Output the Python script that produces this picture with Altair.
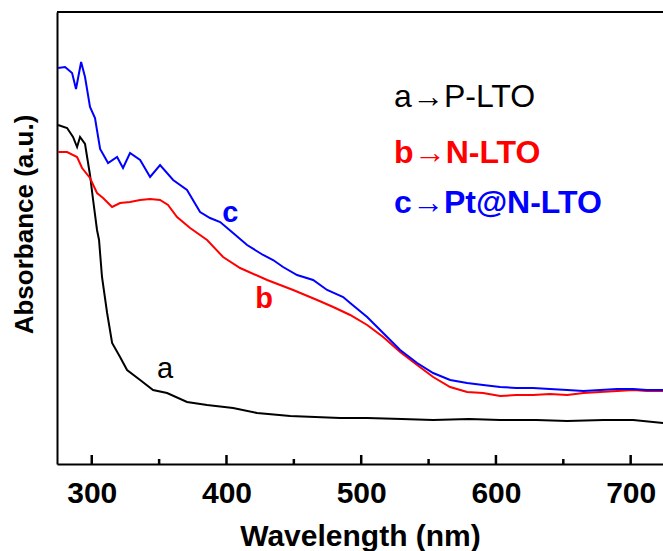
import altair as alt
import pandas as pd

# ---- data (wavelength nm, absorbance a.u.) ----
nm_a = [275.0, 281.7, 286.1, 289.1, 291.3, 295.0, 298.7, 301.0, 303.9, 305.4, 307.6, 311.4,
        315.1, 321.0, 326.2, 335.9, 345.5, 355.9, 370.7, 385.6, 404.9, 422.7, 447.3, 484.4,
        504.4, 530.0, 553.4, 580.0, 603.1, 630.0, 652.9, 680.0, 701.9, 724.2]
abs_a = [3.39, 3.36, 3.27, 3.17, 3.27, 3.20, 2.89, 2.64, 2.34, 2.24, 1.87, 1.51,
         1.21, 1.07, 0.94, 0.84, 0.74, 0.71, 0.62, 0.59, 0.56, 0.51, 0.48, 0.46,
         0.46, 0.45, 0.44, 0.45, 0.44, 0.44, 0.43, 0.44, 0.44, 0.41]

nm_b = [275.0, 281.7, 289.1, 292.8, 298.7, 303.9, 308.4, 315.1, 321.0, 328.4, 335.9, 343.3,
        350.7, 356.6, 363.3, 373.0, 385.6, 397.5, 410.1, 430.2, 449.5, 467.3, 479.2, 491.8,
        504.4, 516.3, 528.9, 541.5, 553.4, 566.0, 578.6, 590.5, 603.1, 615.0, 627.6, 640.0,
        652.9, 665.0, 677.4, 690.0, 701.9, 712.0, 724.2]
abs_b = [3.12, 3.12, 3.07, 2.96, 2.86, 2.71, 2.66, 2.57, 2.61, 2.62, 2.64, 2.65,
         2.64, 2.59, 2.47, 2.36, 2.24, 2.07, 1.96, 1.84, 1.74, 1.64, 1.57, 1.49,
         1.39, 1.27, 1.12, 0.99, 0.87, 0.77, 0.72, 0.71, 0.68, 0.69, 0.69, 0.70,
         0.69, 0.71, 0.72, 0.73, 0.74, 0.73, 0.73]

nm_c = [275.0, 280.2, 285.4, 288.3, 292.1, 295.0, 298.7, 302.4, 306.2, 312.1, 318.8, 323.2,
        328.4, 335.9, 343.3, 350.7, 360.4, 370.7, 380.4, 387.8, 395.3, 404.9, 415.3, 427.2,
        434.6, 442.0, 452.4, 464.3, 474.7, 486.6, 491.8, 504.4, 516.3, 528.9, 541.5, 553.4,
        566.0, 578.6, 590.5, 603.1, 615.0, 627.6, 640.0, 652.9, 665.0, 677.4, 690.0, 701.9,
        712.0, 724.2]
abs_c = [3.96, 3.97, 3.91, 3.75, 4.02, 3.87, 3.57, 3.46, 3.15, 3.01, 3.07, 2.96,
         3.11, 3.04, 2.87, 2.99, 2.84, 2.74, 2.52, 2.46, 2.42, 2.31, 2.19, 2.09,
         2.04, 1.97, 1.89, 1.84, 1.74, 1.67, 1.61, 1.47, 1.31, 1.14, 1.01, 0.91,
         0.84, 0.81, 0.79, 0.77, 0.76, 0.76, 0.75, 0.74, 0.73, 0.74, 0.75, 0.75,
         0.74, 0.74]

series_names = ["a", "b", "c"]
series_colors = ["#000000", "#ff0000", "#0000ff"]

major_ticks = [300, 400, 500, 600, 700]
minor_ticks = [350, 450, 550, 650]

legend_text = ["a\u2192P-LTO", "b\u2192N-LTO", "c\u2192Pt@N-LTO"]
legend_nm = [524.4, 524.4, 524.4]
legend_abs = [3.57, 3.01, 2.51]

curve_text = ["a", "b", "c"]
curve_nm = [354.4, 428.0, 402.8]
curve_abs = [0.86, 1.56, 2.42]

X_DOMAIN = [274.2, 724.0]
Y_DOMAIN = [0, 4.52]
W, H = 606, 452
FONT = "Liberation Sans"

rows = []
for s, xs, ys in zip(series_names, [nm_a, nm_b, nm_c], [abs_a, abs_b, abs_c]):
    for xv, yv in zip(xs, ys):
        rows.append({"series": s, "nm": xv, "abs": yv})
df = pd.DataFrame(rows)

xscale = alt.Scale(domain=X_DOMAIN, nice=False, zero=False)
yscale = alt.Scale(domain=Y_DOMAIN, nice=False, zero=False)

lines = alt.Chart(df).mark_line(strokeWidth=2, clip=True).encode(
    x=alt.X("nm:Q", scale=xscale,
            axis=alt.Axis(title="Wavelength (nm)", values=major_ticks, ticks=False, tickSize=0,
                          grid=False, domainColor="#000000", domainWidth=2,
                          labelFont=FONT, labelFontSize=30, labelFontWeight="bold",
                          labelColor="#000000", labelBaseline="alphabetic", labelPadding=38,
                          titleFont=FONT, titleFontSize=30, titleFontWeight="bold",
                          titleColor="#000000", titleBaseline="alphabetic", titleY=81,
                          labelFlush=False)),
    y=alt.Y("abs:Q", scale=yscale,
            axis=alt.Axis(title="Absorbance (a.u.)", labels=False, ticks=False, grid=False,
                          domainColor="#000000", domainWidth=2,
                          titleFont=FONT, titleFontSize=26, titleFontWeight="bold",
                          titleColor="#000000", titleAngle=-90, titleAlign="center",
                          titleBaseline="middle", titleX=-33, titleY=212)),
    color=alt.Color("series:N", scale=alt.Scale(domain=series_names, range=series_colors),
                    legend=None),
    detail="series:N",
)

major = alt.Chart(pd.DataFrame({"nm": major_ticks})).mark_rule(
    color="#000000", strokeWidth=2.5).encode(
    x=alt.X("nm:Q", scale=xscale), y=alt.value(H - 9), y2=alt.value(H))
minor = alt.Chart(pd.DataFrame({"nm": minor_ticks})).mark_rule(
    color="#000000", strokeWidth=2.5).encode(
    x=alt.X("nm:Q"), y=alt.value(H - 5), y2=alt.value(H))

top_border = alt.Chart(pd.DataFrame({"nm": [X_DOMAIN[0], X_DOMAIN[1]]})).mark_rule(
    color="#000000", strokeWidth=2).encode(
    x=alt.X("min(nm):Q", scale=xscale), x2="max(nm):Q", y=alt.value(0))

leg_df = pd.DataFrame({"t": legend_text, "nm": legend_nm, "abs": legend_abs,
                       "col": series_colors, "s": series_names})
leg_regular = alt.Chart(leg_df).transform_filter(alt.datum.s == "a").mark_text(
    align="left", baseline="alphabetic", font=FONT, fontSize=32, fontWeight="normal").encode(
    x=alt.X("nm:Q", scale=xscale), y=alt.Y("abs:Q", scale=yscale),
    text="t:N", color=alt.Color("col:N", scale=None))
leg_bold = alt.Chart(leg_df).transform_filter(alt.datum.s != "a").mark_text(
    align="left", baseline="alphabetic", font=FONT, fontSize=32, fontWeight="bold").encode(
    x=alt.X("nm:Q", scale=xscale), y=alt.Y("abs:Q", scale=yscale),
    text="t:N", color=alt.Color("col:N", scale=None))

cur_df = pd.DataFrame({"t": curve_text, "nm": curve_nm, "abs": curve_abs,
                       "col": series_colors, "s": series_names})
cur_regular = alt.Chart(cur_df).transform_filter(alt.datum.s == "a").mark_text(
    align="center", baseline="alphabetic", font=FONT, fontSize=29, fontWeight="normal").encode(
    x=alt.X("nm:Q", scale=xscale), y=alt.Y("abs:Q", scale=yscale),
    text="t:N", color=alt.Color("col:N", scale=None))
cur_bold = alt.Chart(cur_df).transform_filter(alt.datum.s != "a").mark_text(
    align="center", baseline="alphabetic", font=FONT, fontSize=29, fontWeight="bold").encode(
    x=alt.X("nm:Q", scale=xscale), y=alt.Y("abs:Q", scale=yscale),
    text="t:N", color=alt.Color("col:N", scale=None))

chart = alt.layer(lines, top_border, leg_regular, leg_bold,
                  cur_regular, cur_bold, major, minor).properties(
    width=W, height=H,
    autosize=alt.AutoSizeParams(type="none"),
    padding={"left": 57, "top": 12, "right": 0, "bottom": 87},
    background="#ffffff",
).configure_view(stroke=None)

chart.save("out.html", embed_options={"renderer": "svg", "actions": False})
